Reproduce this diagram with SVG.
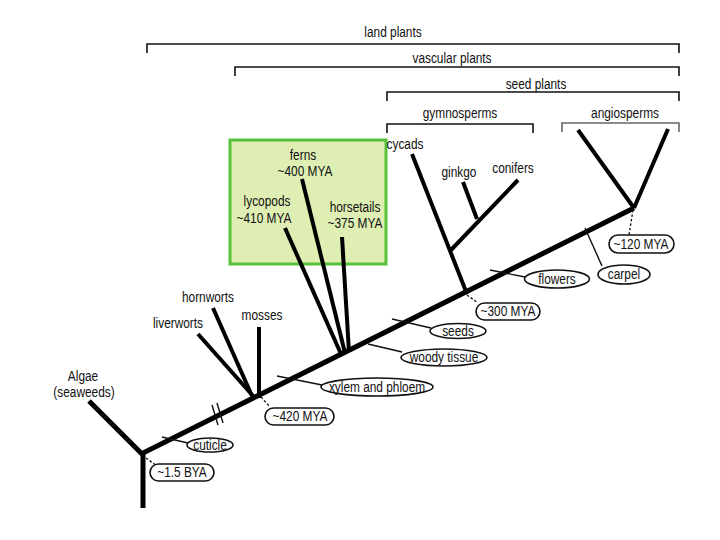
<svg xmlns="http://www.w3.org/2000/svg" width="720" height="540" viewBox="0 0 720 540">
<style>
text{font-family:"Liberation Sans",Arial,sans-serif;font-size:13.8px;fill:#111;text-anchor:middle}
.br{fill:none;stroke:#111;stroke-width:1.6}
.br2{fill:none;stroke:#666;stroke-width:1.6}
.thick{stroke:#000;stroke-width:5;stroke-linecap:butt;fill:none}
.mid{stroke:#000;stroke-width:4;fill:none}
.tick{stroke:#111;stroke-width:1.4;fill:none}
.dash{stroke:#111;stroke-width:1.3;stroke-dasharray:2.5 2;fill:none}
.lab{fill:#fff;stroke:#111;stroke-width:1.6}
</style>
<rect width="720" height="540" fill="#fff"/>
<g id="brackets">
<g id="land-plants"><path class="br" d="M147,53 V44 H679 V53"/><text transform="translate(393,37) scale(0.86,1)">land plants</text></g>
<g id="vascular-plants"><path class="br" d="M235,76 V67 H679 V76"/><text transform="translate(452,63) scale(0.86,1)">vascular plants</text></g>
<g id="seed-plants"><path class="br" d="M387,101 V92 H679 V101"/><text transform="translate(536,89) scale(0.86,1)">seed plants</text></g>
<g id="gymnosperms"><path class="br" d="M387,133 V124 H533 V133"/><text transform="translate(460,118) scale(0.86,1)">gymnosperms</text></g>
<g id="angiosperms"><path class="br2" d="M562,132 V123 H679 V132"/><text transform="translate(625,118) scale(0.86,1)">angiosperms</text></g>
</g>
<g id="highlight"><rect x="230" y="140" width="156" height="124" fill="#dfeeb3" stroke="#55c23a" stroke-width="3"/></g>
<g id="connectors">
<path class="thick" d="M143,508 V453 L634,208"/>
<path class="thick" d="M143,455 L89,401"/>
<path class="mid" d="M254,397 L198,334"/>
<path class="mid" d="M252,396 L213,308"/>
<path class="mid" d="M259,398 V327"/>
<path class="mid" d="M341,354 L285,228"/>
<path class="mid" d="M345,353 L302,179"/>
<path class="mid" d="M349,352 L342,237"/>
<path class="mid" d="M467,294 L412,154"/>
<path class="mid" d="M451,250 L518,180"/>
<path class="mid" d="M477,219 L463,182"/>
<path class="mid" d="M634,208 L578,130"/>
<path class="mid" d="M634,208 L668,129"/>
<path class="tick" d="M212,405 L218,425 M217,403 L223,423"/>
<path class="tick" d="M162,437 L188,443"/>
<path class="tick" d="M277,376 L322,385"/>
<path class="tick" d="M368,344 L402,352"/>
<path class="tick" d="M392,319 L431,328"/>
<path class="tick" d="M490,270 L525,277"/>
<path class="tick" d="M585,228 L602,266"/>
<path class="dash" d="M146,458 L157,466"/>
<path class="dash" d="M261,397 L270,407"/>
<path class="dash" d="M467,295 L478,303"/>
<path class="dash" d="M633,210 L629,235"/>
</g>
<g id="algae"><text transform="translate(83,381) scale(0.86,1)">Algae</text><text transform="translate(84,397) scale(0.86,1)">(seaweeds)</text></g>
<g id="liverworts"><text transform="translate(178,328) scale(0.86,1)">liverworts</text></g>
<g id="hornworts"><text transform="translate(208,302) scale(0.86,1)">hornworts</text></g>
<g id="mosses"><text transform="translate(262,320) scale(0.86,1)">mosses</text></g>
<g id="ferns"><text transform="translate(303,160) scale(0.86,1)">ferns</text><text transform="translate(305,176) scale(0.86,1)">~400 MYA</text></g>
<g id="lycopods"><text transform="translate(267,206) scale(0.86,1)">lycopods</text><text transform="translate(264,223) scale(0.86,1)">~410 MYA</text></g>
<g id="horsetails"><text transform="translate(355,212) scale(0.86,1)">horsetails</text><text transform="translate(355,228) scale(0.86,1)">~375 MYA</text></g>
<g id="cycads"><text transform="translate(405,149) scale(0.86,1)">cycads</text></g>
<g id="ginkgo"><text transform="translate(459,177) scale(0.86,1)">ginkgo</text></g>
<g id="conifers"><text transform="translate(513,173) scale(0.86,1)">conifers</text></g>
<g id="bya15"><rect class="lab" x="150" y="464" width="64" height="17" rx="8.5"/><text transform="translate(182,477) scale(0.86,1)">~1.5 BYA</text></g>
<g id="mya420"><rect class="lab" x="265" y="408" width="69" height="17" rx="8.5"/><text transform="translate(300,421) scale(0.86,1)">~420 MYA</text></g>
<g id="mya300"><rect class="lab" x="476" y="303" width="64" height="17" rx="8.5"/><text transform="translate(508,316) scale(0.86,1)">~300 MYA</text></g>
<g id="mya120"><rect class="lab" x="609" y="235" width="65" height="18" rx="9"/><text transform="translate(641,249) scale(0.86,1)">~120 MYA</text></g>
<g id="cuticle"><ellipse class="lab" cx="210" cy="445" rx="23" ry="7"/><text transform="translate(210,449.5) scale(0.86,1)">cuticle</text></g>
<g id="xylem"><ellipse class="lab" cx="377" cy="387" rx="56" ry="9"/><text transform="translate(377,391.5) scale(0.86,1)">xylem and phloem</text></g>
<g id="woody"><ellipse class="lab" cx="444" cy="357.5" rx="43" ry="8.5"/><text transform="translate(444,362) scale(0.86,1)">woody tissue</text></g>
<g id="seeds"><ellipse class="lab" cx="458" cy="331" rx="28" ry="7.5"/><text transform="translate(458,335.5) scale(0.86,1)">seeds</text></g>
<g id="flowers"><ellipse class="lab" cx="557" cy="279" rx="32.5" ry="9"/><text transform="translate(557,283.5) scale(0.86,1)">flowers</text></g>
<g id="carpel"><ellipse class="lab" cx="624" cy="274.5" rx="26" ry="9.5"/><text transform="translate(624,279) scale(0.86,1)">carpel</text></g>
</svg>
